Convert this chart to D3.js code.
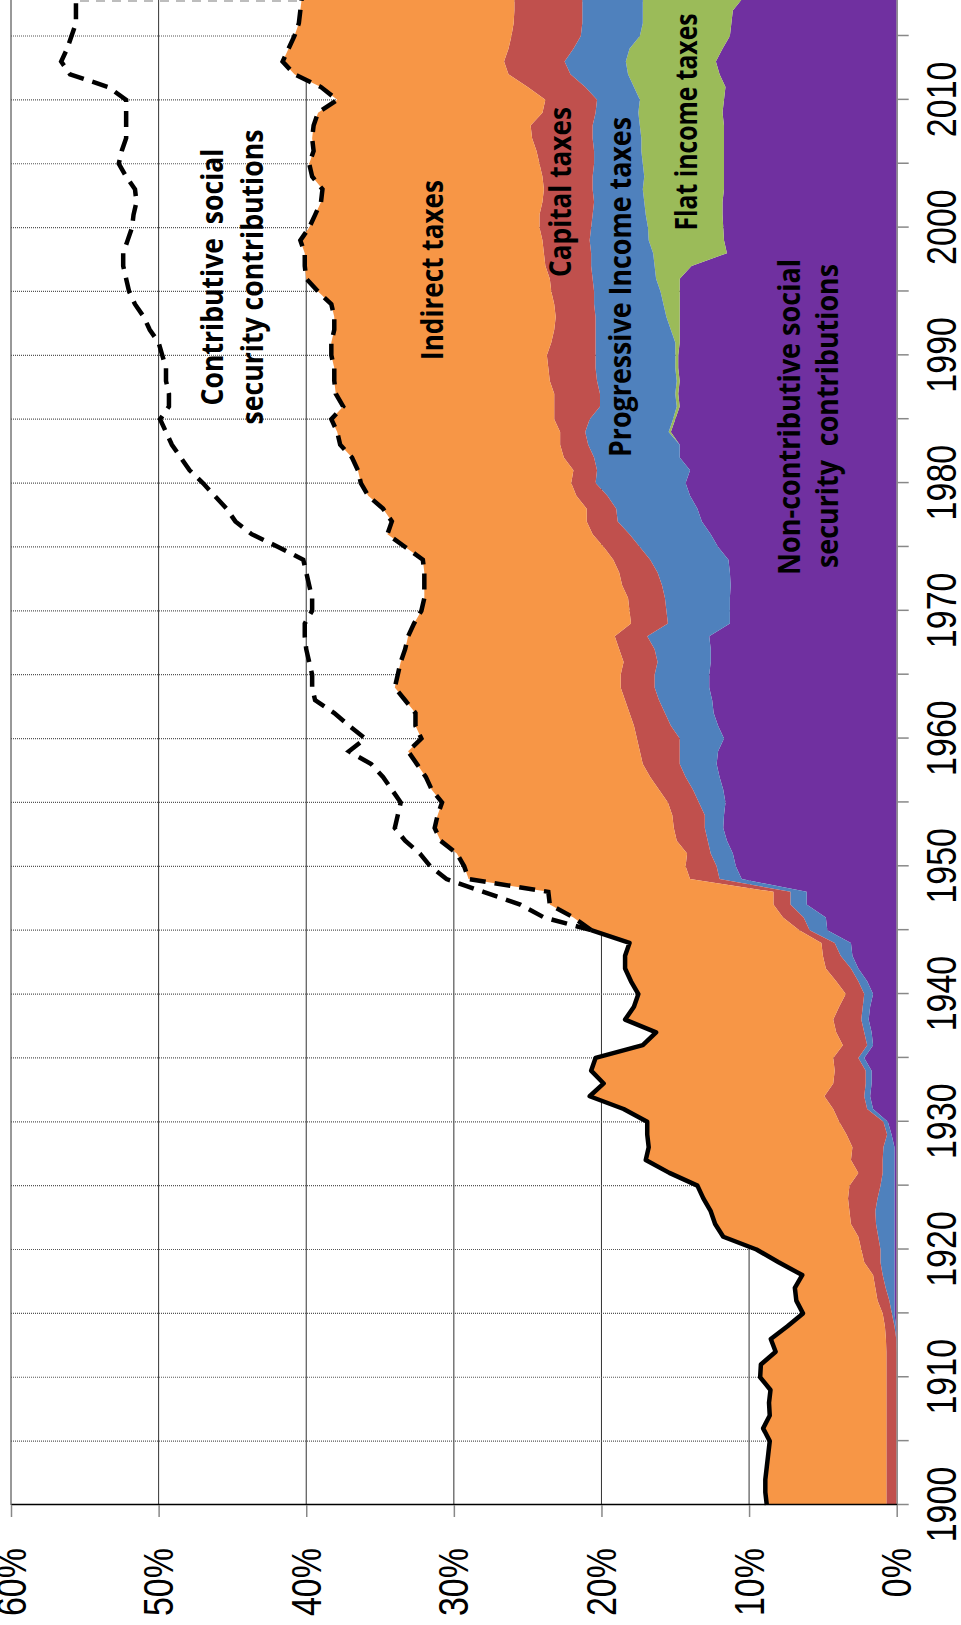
<!DOCTYPE html>
<html>
<head>
<meta charset="utf-8">
<script src="https://cdn.jsdelivr.net/npm/d3@7"></script>
<style>
  body { margin: 0; background: #fff; }
  svg { display: block; }
</style>
</head>
<body>
<svg width="961" height="1625"></svg>
<script>
// yearly data, 1900-2018, share of income (%)
const years = d3.range(1900, 2019);

const nonContributive = [
  0, 0, 0, 0, 0, 0, 0, 0, 0, 0,
  0, 0, 0, 0.03, 0.05, 0.15, 0.15, 0.15, 0.15, 0.15,
  0.15, 0.15, 0.15, 0.15, 0.15, 0.15, 0.15, 0.15, 0.15, 0.35,
  0.6, 1.6, 1.8, 1.7, 1.7, 2.2, 1.6, 1.7, 1.9, 1.8,
  1.6, 2.0, 2.6, 3.0, 3.1, 4.7, 4.8, 6.1, 6.1, 10.5,
  10.9, 11.1, 11.5, 11.75, 11.7, 11.6, 11.75, 12.0, 12.2, 12.1,
  11.7, 12.1, 12.4, 12.5, 12.7, 12.7, 12.6, 12.6, 12.7, 11.3,
  11.3, 11.3, 11.25, 11.3, 11.4, 12.1, 12.6, 13.2, 13.5, 14.0,
  14.3, 14.0, 14.7, 14.7, 15.3, 15.0, 14.7, 14.8, 14.7, 14.8,
  14.8, 14.7, 14.7, 14.7, 14.7, 14.7, 14.7, 13.9, 11.5, 11.7,
  11.75, 11.8, 11.8, 11.7, 11.7, 11.7, 11.7, 11.7, 11.7, 11.8,
  11.7, 11.6, 12.0, 12.25, 11.8, 11.3, 11.2, 11.1, 10.4
];

const flatIncome = [
  0, 0, 0, 0, 0, 0, 0, 0, 0, 0,
  0, 0, 0, 0, 0, 0, 0, 0, 0, 0,
  0, 0, 0, 0, 0, 0, 0, 0, 0, 0,
  0, 0, 0, 0, 0, 0, 0, 0, 0, 0,
  0, 0, 0, 0, 0, 0, 0, 0, 0, 0,
  0, 0, 0, 0, 0, 0, 0, 0, 0, 0,
  0, 0, 0, 0, 0, 0, 0, 0, 0, 0,
  0, 0, 0, 0, 0, 0, 0, 0, 0, 0,
  0, 0, 0, 0, 0.15, 0.15, 0.2, 0.2, 0.2, 0.2,
  0.2, 0.3, 0.6, 0.9, 1.1, 1.3, 1.6, 2.5, 5.0, 5.1,
  5.1, 5.2, 5.3, 5.5, 5.4, 5.5, 5.6, 5.6, 5.7, 5.7,
  5.7, 6.2, 6.2, 6.1, 6.3, 6.1, 6.0, 6.1, 6.8
];

const progressiveIncome = [
  0, 0, 0, 0, 0, 0, 0, 0, 0, 0,
  0, 0, 0, 0, 0.1, 0.18, 0.35, 0.6, 0.8, 0.95,
  0.95, 1.1, 1.25, 1.3, 1.15, 0.95, 0.8, 0.8, 0.75, 0.3,
  0.3, 0.4, 0.4, 0.4, 0.4, 0.4, 0.4, 0.5, 0.5, 0.5,
  0.6, 0.6, 0.5, 0.8, 1.1, 1.2, 1.5, 1.1, 1.1, 1.5,
  1.3, 1.5, 1.3, 1.25, 1.3, 1.8, 2.05, 2.3, 2.5, 2.6,
  3.0, 3.2, 3.3, 3.6, 3.7, 3.7, 3.6, 3.8, 4.2, 4.2,
  4.3, 4.4, 4.65, 4.9, 5.3, 5.3, 5.5, 5.7, 5.5, 5.6,
  6.1, 6.3, 5.8, 6.2, 5.65, 5.65, 5.2, 5.1, 5.4, 5.4,
  5.4, 5.4, 5.1, 4.8, 4.7, 4.5, 4.3, 4.3, 4.2, 4.0,
  3.85, 3.6, 3.4, 3.4, 3.5, 3.3, 3.2, 3.3, 3.2, 2.9,
  2.9, 3.3, 3.9, 4.15, 3.8, 4.0, 4.1, 4.1, 4.1
];

const capitalTaxes = [
  0.7, 0.7, 0.7, 0.7, 0.7, 0.7, 0.7, 0.7, 0.7, 0.7,
  0.7, 0.7, 0.7, 0.7, 0.65, 0.62, 0.8, 0.7, 0.65, 1.1,
  1.3, 1.35, 1.7, 1.75, 2.0, 2.1, 1.65, 2.15, 2.1, 2.75,
  3.0, 2.3, 2.7, 2.2, 2.1, 1.7, 1.65, 1.9, 1.9, 1.6,
  1.25, 1.5, 1.7, 1.2, 0.9, 0.7, 1.4, 1.15, 1.15, 2.0,
  2.1, 1.6, 2.1, 2.1, 2.2, 2.1, 2.3, 2.4, 2.5, 2.7,
  2.9, 2.5, 2.4, 2.3, 2.3, 2.3, 2.3, 2.4, 2.2, 2.5,
  2.5, 2.5, 2.7, 2.6, 2.5, 2.45, 2.5, 2.1, 2.0, 2.1,
  1.65, 1.6, 2.05, 1.9, 1.7, 2.4, 3.1, 3.1, 3.2, 3.2,
  3.3, 3.0, 2.8, 2.7, 2.7, 2.9, 2.9, 3.1, 3.2, 3.2,
  3.5, 3.6, 3.5, 3.3, 3.4, 3.7, 3.9, 4.1, 4.2, 3.6,
  3.5, 3.9, 4.2, 4.1, 4.4, 4.7, 4.65, 4.6, 4.6
];

const indirectTaxes = [
  8.1, 8.2, 8.2, 8.1, 8.0, 7.9, 8.35, 7.9, 7.95, 7.85,
  8.55, 8.5, 7.5, 7.8, 6.6, 5.4, 5.5, 5.45, 4.8, 5.8,
  7.1, 9.15, 9.2, 9.4, 9.8, 10.3, 12.8, 13.9, 13.8, 13.5,
  13.0, 14.2, 15.9, 15.55, 16.5, 16.1, 13.55, 12.2, 14.1, 13.9,
  14.05, 13.9, 13.6, 13.4, 13.0, 14.1, 14.2, 15.15, 15.25, 15.0,
  15.0, 15.6, 16.0, 16.2, 15.9, 15.3, 15.4, 15.2, 15.3, 15.7,
  14.6, 14.8, 14.5, 14.9, 15.3, 15.1, 15.1, 14.5, 14.0, 14.7,
  14.1, 13.8, 13.4, 13.2, 12.9, 13.45, 13.9, 13.2, 13.8, 14.1,
  14.25, 14.6, 14.35, 14.9, 15.1, 15.1, 14.3, 14.8, 14.6, 14.5,
  14.6, 14.9, 14.9, 15.0, 15.1, 15.8, 16.5, 16.3, 16.2, 16.4,
  15.6, 15.2, 15.0, 15.0, 15.6, 15.6, 15.1, 14.9, 14.7, 15.2,
  14.1, 14.0, 14.5, 15.0, 14.9, 14.7, 14.55, 14.5, 14.4
];

// contributive social security contributions, only shown from 1945
const contributive = [
  null, null, null, null, null, null, null, null, null, null,
  null, null, null, null, null, null, null, null, null, null,
  null, null, null, null, null, null, null, null, null, null,
  null, null, null, null, null, null, null, null, null, null,
  null, null, null, null, null, 0, 2.0, 2.0, 4.4, 1.5,
  2.3, 2.5, 2.4, 2.7, 2.7, 2.8, 2.7, 2.9, 3.1, 4.0,
  3.8, 4.5, 5.5, 6.1, 5.6, 5.8, 6.2, 6.7, 7.0, 7.4,
  7.4, 7.6, 7.8, 8.0, 8.1, 8.6, 9.2, 10.6, 10.6, 10.4,
  10.7, 11.4, 11.6, 11.4, 11.6, 11.6, 11.8, 11.3, 11.4, 11.4,
  11.45, 11.7, 12.5, 12.9, 13.3, 12.8, 12.2, 12.3, 12.3, 11.7,
  12.0, 12.3, 12.5, 12.7, 12.6, 12.9, 13.0, 12.6, 12.7, 13.0,
  14.3, 14.4, 15.2, 15.0, 15.0, 15.1, 15.1, 15.2, 15.3
];

const percentTicks = [0, 10, 20, 30, 40, 50, 60];
const yearTicks = [1900, 1905, 1910, 1915, 1920, 1925, 1930, 1935, 1940, 1945, 1950, 1955,
  1960, 1965, 1970, 1975, 1980, 1985, 1990, 1995, 2000, 2005, 2010, 2015];

const keys = ['nonContributive', 'flatIncome', 'progressiveIncome', 'capitalTaxes', 'indirectTaxes'];
const colors = {
  nonContributive: '#7030A0',
  flatIncome: '#9BBB59',
  progressiveIncome: '#4F81BD',
  capitalTaxes: '#C0504D',
  indirectTaxes: '#F79646'
};

const table = years.map((year, i) => ({
  year,
  nonContributive: nonContributive[i],
  flatIncome: flatIncome[i],
  progressiveIncome: progressiveIncome[i],
  capitalTaxes: capitalTaxes[i],
  indirectTaxes: indirectTaxes[i],
  contributive: contributive[i]
}));
table.forEach(d => { d.total = keys.reduce((s, k) => s + d[k], 0); });

let svg = d3.select('svg');

// the chart is drawn as a normal chart, then turned a quarter turn
const plotH = 885.7;
const stretch = 1.23;
const font = "'Liberation Sans', Arial, sans-serif";
const labelFont = "'Open Sans', 'Noto Sans', sans-serif";

const x = d3.scaleLinear().domain([1900, 2018]).range([0, 118 * 12.774]);
const y = d3.scaleLinear().domain([0, 60]).range([plotH, 0]);

// grey dashed border at the top (partly hidden by the areas)
svg.append('line')
  .attr('x1', 80).attr('x2', 896).attr('y1', 1).attr('y2', 1)
  .attr('stroke', '#bdbdbd').attr('stroke-width', 2).attr('stroke-dasharray', '9,7');

let graph = svg.append('g')
  .attr('transform', 'translate(11,1505) rotate(-90)');

// percent gridlines
graph.append('g')
  .selectAll('line')
  .data(percentTicks.slice(1))
  .join('line')
  .attr('x1', 0).attr('x2', x(2018))
  .attr('y1', d => y(d)).attr('y2', d => y(d))
  .attr('stroke', '#333').attr('stroke-width', 1);

// year gridlines (dotted)
graph.append('g')
  .selectAll('line')
  .data(yearTicks.slice(1))
  .join('line')
  .attr('x1', d => x(d)).attr('x2', d => x(d))
  .attr('y1', 0).attr('y2', plotH)
  .attr('stroke', '#555').attr('stroke-width', 1.2).attr('stroke-dasharray', '1,1');

// stacked areas
const series = d3.stack().keys(keys)(table);
const area = d3.area()
  .x(d => x(d.data.year))
  .y0(d => y(d[0]))
  .y1(d => y(d[1]));

graph.append('g')
  .selectAll('path')
  .data(series)
  .join('path')
  .attr('fill', d => colors[d.key])
  .attr('d', area);

// total lines
const totalLine = d3.line().x(d => x(d.year)).y(d => y(d.total));
const withContrib = d3.line().x(d => x(d.year)).y(d => y(d.total + d.contributive));

graph.append('path')
  .datum(table.filter(d => d.year <= 1945))
  .attr('fill', 'none').attr('stroke', '#000').attr('stroke-width', 4.5)
  .attr('stroke-linejoin', 'round')
  .attr('d', totalLine);

graph.append('path')
  .datum(table.filter(d => d.year >= 1945))
  .attr('fill', 'none').attr('stroke', '#000').attr('stroke-width', 4.5)
  .attr('stroke-dasharray', '16,9')
  .attr('d', totalLine);

graph.append('path')
  .datum(table.filter(d => d.year >= 1945))
  .attr('fill', 'none').attr('stroke', '#000').attr('stroke-width', 4.5)
  .attr('stroke-dasharray', '16,9')
  .attr('d', withContrib);

// year axis (right side once turned)
let yearAxis = graph.append('g')
  .attr('transform', `translate(0, ${plotH})`)
  .call(d3.axisBottom(x)
    .tickValues(yearTicks)
    .tickSize(12)
    .tickSizeOuter(0)
    .tickFormat(d => d % 10 === 0 ? d : ''));
yearAxis.attr('font-family', font).attr('font-size', 34);
yearAxis.select('.domain').attr('stroke', '#888').attr('stroke-width', 1.5);
yearAxis.selectAll('.tick line').attr('stroke', '#888').attr('stroke-width', 1.5);
yearAxis.selectAll('.tick text')
  .attr('y', null).attr('dy', null)
  .attr('fill', '#000')
  .attr('transform', `translate(0, 59) scale(1, ${stretch})`);

// percent axis (bottom once turned)
let valAxis = graph.append('g')
  .call(d3.axisLeft(y)
    .tickValues(percentTicks)
    .tickSize(12)
    .tickSizeOuter(0)
    .tickFormat(d => d + '%'));
valAxis.attr('font-family', font).attr('font-size', 34);
valAxis.select('.domain').attr('stroke', '#000').attr('stroke-width', 1.5);
valAxis.selectAll('.tick line').attr('stroke', '#888').attr('stroke-width', 1.5);
valAxis.selectAll('.tick text')
  .attr('x', null).attr('dy', null)
  .attr('fill', '#000')
  .attr('text-anchor', 'end')
  .attr('transform', `translate(-43, 14) scale(1, ${stretch})`);

// series labels: screen centre y, screen baseline x, text length
const labels = [
  {text: 'Contributive  social', cy: 277, bx: 223, len: 257},
  {text: 'security contributions', cy: 277, bx: 263, len: 295},
  {text: 'Indirect taxes', cy: 270, bx: 443, len: 180},
  {text: 'Capital taxes', cy: 192, bx: 571, len: 170},
  {text: 'Progressive Income taxes', cy: 287, bx: 631, len: 340},
  {text: 'Flat income taxes', cy: 122, bx: 697, len: 217},
  {text: 'Non-contributive social', cy: 417, bx: 800, len: 316},
  {text: 'security  contributions', cy: 416, bx: 838, len: 304}
];

graph.append('g')
  .selectAll('text')
  .data(labels)
  .join('text')
  .attr('transform', d => `translate(${1505 - d.cy}, ${d.bx - 11}) scale(1, ${stretch})`)
  .attr('text-anchor', 'middle')
  .attr('font-family', labelFont)
  .attr('font-weight', 'bold')
  .attr('font-size', 24)
  .attr('fill', '#000')
  .style('white-space', 'pre')
  .attr('textLength', d => d.len)
  .attr('lengthAdjust', 'spacingAndGlyphs')
  .text(d => d.text);
</script>
</body>
</html>
